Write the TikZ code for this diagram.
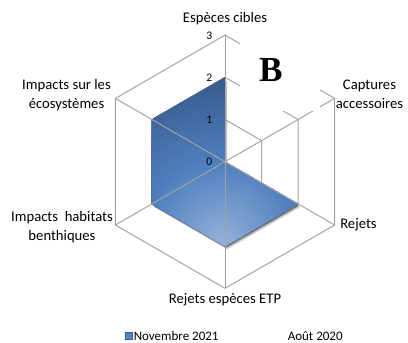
\documentclass[tikz,border=0pt]{standalone}
\usepackage{fontspec}
\setmainfont{Carlito}
\newfontfamily\serifB{Liberation Serif}
\usetikzlibrary{calc}
\definecolor{gridc}{HTML}{A3A3A3}
\definecolor{lightb}{HTML}{94B1DA}
\definecolor{midb}{HTML}{4E7EBE}
\definecolor{darkb}{HTML}{3A5C8E}
\begin{document}
\begin{tikzpicture}[x=0.75pt,y=-0.75pt,
  grid/.style={draw=gridc,line width=0.75pt},
  axlab/.style={font=\fontsize{11}{14.25}\selectfont, align=center, inner sep=0pt},
  ticklab/.style={font=\fontsize{8.7}{10}\selectfont, inner sep=0pt, anchor=east},
  leglab/.style={font=\fontsize{9.75}{12}\selectfont, inner sep=0pt, anchor=west}]
\useasboundingbox (0,0) rectangle (408,343);
\coordinate (C) at (225,161.7);
\foreach \k in {1,2,3}{
  \foreach \a [count=\i] in {-90,-30,30,90,150,210}{
    \coordinate (p\k\i) at ($(C)+(\a:{42.2*\k})$);
  }
}
% grid hexagons
\foreach \k in {1,2,3}
  \draw[grid] (p\k1)--(p\k2)--(p\k3)--(p\k4)--(p\k5)--(p\k6)--cycle;
% shadow of series
\fill[black,opacity=0.2] ([shift={(2.2,3.2)}]p21) -- ([shift={(2.2,3.2)}]C) -- ([shift={(2.2,3.2)}]p23) -- ([shift={(2.2,3.2)}]p24) -- ([shift={(2.2,3.2)}]p25) -- ([shift={(2.2,3.2)}]p26) -- cycle;
\fill[black,opacity=0.4] ([shift={(1.1,1.8)}]p21) -- ([shift={(1.1,1.8)}]C) -- ([shift={(1.1,1.8)}]p23) -- ([shift={(1.1,1.8)}]p24) -- ([shift={(1.1,1.8)}]p25) -- ([shift={(1.1,1.8)}]p26) -- cycle;
% series (manual radial gradient)
\begin{scope}
  \clip (p21) -- (C) -- (p23) -- (p24) -- (p25) -- (p26) -- cycle;
  \foreach \j in {0,...,39}{
    \pgfmathsetmacro\gfr{1-\j/40}
    \pgfmathsetmacro\grad{180*\gfr}
    \ifdim \gfr pt > 0.45pt
      \pgfmathsetmacro\gpc{min(100,(\gfr-0.45)/0.45*100)}
      \colorlet{cc}{darkb!\gpc!midb}
    \else
      \pgfmathsetmacro\gpc{\gfr/0.45*100}
      \colorlet{cc}{midb!\gpc!lightb}
    \fi
    \fill[cc] (222,240) circle (\grad);
  }
\end{scope}
% spokes
\foreach \i in {1,...,6}
  \draw[grid] (C) -- (p3\i);
% white box behind the B
\fill[white] (239.5,30) rectangle (319.5,111);
\node[font=\serifB\bfseries\fontsize{26.4}{30}\selectfont, inner sep=0pt] (B) at (270.8,70) {B};
% tick labels
\foreach \v/\y in {0/161.7,1/119.5,2/77.3,3/35}
  \node[ticklab] (t\v) at (212.5,\y+0.5) {\v};
% category labels
\node[axlab] (l1) at (225,18.3) {Espèces cibles};
\node[axlab] (l2) at (369.5,94.5) {Captures\\accessoires};
\node[axlab,anchor=west] (l3) at (340,225) {Rejets};
\node[axlab] (l4) at (225,300) {Rejets espèces ETP};
\node[axlab] (l5) at (62,226.7) {Impacts\ \ habitats\\benthiques};
\node[axlab] (l6) at (66.5,95) {Impacts sur les\\écosystèmes};
% legend
\node[draw=darkb,line width=0.3pt,top color=midb,bottom color=midb!75!lightb,minimum size=5.25pt,inner sep=0pt] (legsq) at (128.5,336) {};
\node[leglab] (leg1) at (133.5,336) {Novembre 2021};
\node[leglab] (leg2) at (287.5,336) {Août 2020};
\end{tikzpicture}
\end{document}
